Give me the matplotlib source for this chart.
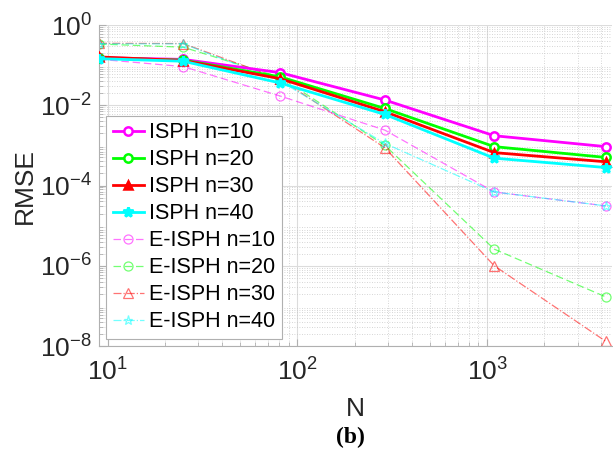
import matplotlib
matplotlib.use("Agg")
import matplotlib.pyplot as plt
import numpy as np

N = [9, 25, 81, 289, 1089, 4225]

isph_10 = [0.153, 0.139, 0.065, 0.0135, 1.74e-3, 9.3e-4]
isph_20 = [0.150, 0.133, 0.051, 8.3e-3, 9.3e-4, 5.0e-4]
isph_30 = [0.160, 0.130, 0.046, 6.9e-3, 6.6e-4, 3.9e-4]
isph_40 = [0.145, 0.125, 0.036, 5.9e-3, 4.8e-4, 2.8e-4]

eisph_10 = [0.140, 0.092, 0.017, 2.4e-3, 6.9e-5, 3.1e-5]
eisph_20 = [0.336, 0.280, 0.050, 1.0e-3, 2.6e-6, 1.67e-7]
eisph_30 = [0.350, 0.345, 0.045, 8.7e-4, 1.0e-6, 1.3e-8]
eisph_40 = [0.340, 0.340, 0.040, 1.12e-3, 6.9e-5, 3.1e-5]

labels_isph = ["ISPH n=10", "ISPH n=20", "ISPH n=30", "ISPH n=40"]
labels_eisph = ["E-ISPH n=10", "E-ISPH n=20", "E-ISPH n=30", "E-ISPH n=40"]

plt.rcParams['font.family'] = ['Liberation Sans', 'DejaVu Sans']
plt.rcParams['mathtext.fontset'] = 'custom'
plt.rcParams['mathtext.rm'] = 'Liberation Sans'
plt.rcParams['mathtext.it'] = 'Liberation Sans'

fig = plt.figure(figsize=(6.13, 4.68), dpi=100)
ax = fig.add_axes([99/613, 1-346/468, (612-99)/613, (346-25)/468])

mag = '#ff00ff'
grn = '#00ff00'
red = '#ff0000'
cyn = '#00ffff'

ax.plot(N, isph_10, '-o', color=mag, lw=2, ms=6, mfc='white', mew=1.8, label=labels_isph[0], zorder=5)
ax.plot(N, isph_20, '-o', color=grn, lw=2, ms=6, mfc='white', mew=1.8, label=labels_isph[1], zorder=5)
ax.plot(N, isph_30, '-^', color=red, lw=2, ms=6, mfc=red, mew=1.8, label=labels_isph[2], zorder=5)
ax.plot(N, isph_40, '-*', color=cyn, lw=2, ms=7, mfc=cyn, mew=2, label=labels_isph[3], zorder=5)

a = 0.55
ax.plot(N, eisph_10, '--o', color=mag, lw=0.9, ms=6.5, mfc='none', mew=0.9, alpha=a, label=labels_eisph[0], dashes=(6, 3))
ax.plot(N, eisph_20, '--o', color=grn, lw=0.9, ms=6.5, mfc='none', mew=0.9, alpha=a, label=labels_eisph[1], dashes=(6, 3))
ax.plot(N, eisph_30, '-.^', color=red, lw=0.9, ms=6.5, mfc='none', mew=0.9, alpha=a, label=labels_eisph[2])
ax.plot(N, eisph_40, '-.*', color=cyn, lw=0.9, ms=6.5, mfc='none', mew=0.9, alpha=a, label=labels_eisph[3])

ax.set_xscale('log')
ax.set_yscale('log')
ax.set_xlim(9, 4550)
ax.set_ylim(1e-8, 1)

ax.set_yticks([1e-8, 1e-6, 1e-4, 1e-2, 1])
ax.set_yticklabels([r'$10^{-8}$', r'$10^{-6}$', r'$10^{-4}$', r'$10^{-2}$', r'$10^{0}$'])
ax.set_xticks([10, 100, 1000])
ax.set_xticklabels([r'$10^{1}$', r'$10^{2}$', r'$10^{3}$'])
ax.yaxis.set_minor_locator(matplotlib.ticker.LogLocator(base=10, subs=np.arange(2, 10), numticks=50))
ax.xaxis.set_minor_locator(matplotlib.ticker.LogLocator(base=10, subs=np.arange(2, 10), numticks=50))
ax.yaxis.set_minor_formatter(matplotlib.ticker.NullFormatter())
ax.xaxis.set_minor_formatter(matplotlib.ticker.NullFormatter())

ax.grid(True, which='major', color='#dcdcdc', lw=0.8, ls='-')
ax.grid(True, which='minor', color='#c8c8c8', lw=0.6, ls=(0, (1, 2)))
ax.set_axisbelow(True)

for s in ['top', 'right']:
    ax.spines[s].set_visible(False)
for s in ['left', 'bottom']:
    ax.spines[s].set_color('#b0b0b0')
    ax.spines[s].set_linewidth(0.8)
ax.tick_params(which='both', direction='in', colors='#b0b0b0', labelcolor='#262626', labelsize=19)
ax.tick_params(which='major', length=5)
ax.tick_params(which='minor', length=3)
ax.tick_params(axis='x', pad=9)
ax.tick_params(axis='y', pad=5)

ax.set_xlabel('N', fontsize=19, color='#262626', labelpad=8)
ax.set_ylabel('RMSE', fontsize=19, color='#262626', labelpad=2)

leg = ax.legend(loc='lower left', bbox_to_anchor=(0.014, 0.022), fontsize=15.5,
                handlelength=1.45, handletextpad=0.25, labelspacing=0.28,
                borderpad=0.3, borderaxespad=0.0, fancybox=False, framealpha=1,
                edgecolor='#b0b0b0')
leg.get_frame().set_linewidth(0.8)

fig.text(0.571, 0.066, '(b)', fontsize=17, fontweight='bold', family='Liberation Serif',
         ha='center', va='center', color='black')

fig.savefig('out.png', dpi=100)
